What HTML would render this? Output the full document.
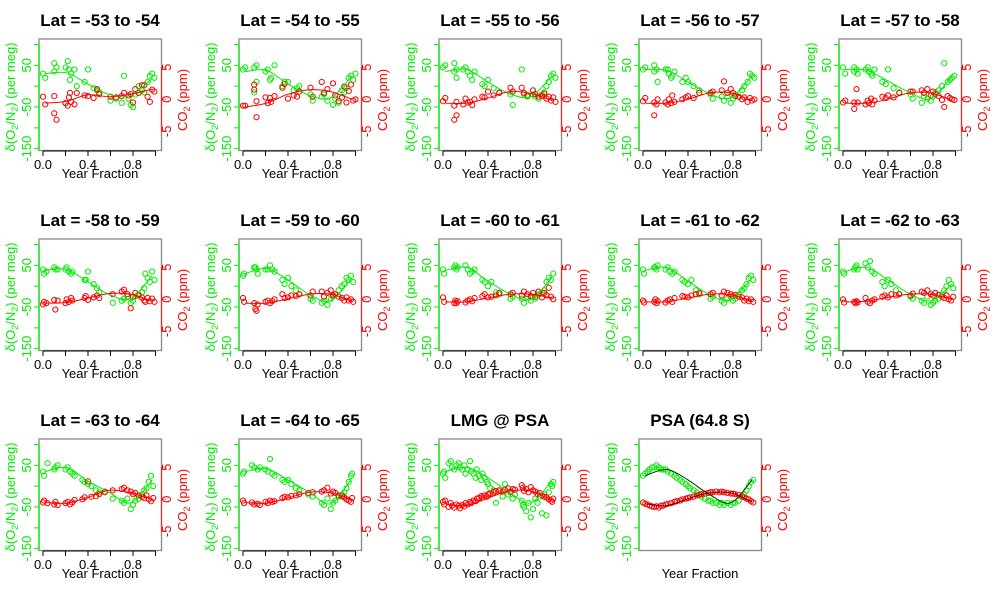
<!DOCTYPE html>
<html><head><meta charset="utf-8">
<style>
html,body{margin:0;padding:0;background:#fff;}
svg{display:block;font-family:"Liberation Sans",Arial,sans-serif;}
</style></head>
<body>
<svg id="chart" width="1000" height="600" viewBox="0 0 1000 600" xmlns="http://www.w3.org/2000/svg"></svg>
<script>
// ---- data ----
const panelTitles = ["Lat = -53 to -54","Lat = -54 to -55","Lat = -55 to -56","Lat = -56 to -57","Lat = -57 to -58",
"Lat = -58 to -59","Lat = -59 to -60","Lat = -60 to -61","Lat = -61 to -62","Lat = -62 to -63",
"Lat = -63 to -64","Lat = -64 to -65","LMG @ PSA","PSA (64.8 S)"];
const xTicks = [0,0.2,0.4,0.6,0.8,1.0];
const xTickLabels = ["0.0","","0.4","","0.8",""];
const o2Ticks = [100,50,0,-50,-100,-150];
const o2TickLabels = ["","50","","-50","","-150"];
const co2Ticks = [5,0,-5];
const co2TickLabels = ["5","0","-5"];
const fitKnots = [0,0.2,0.4,0.6,0.8,1.0];

const xs = [
[0.0,0.02,0.1,0.1,0.12,0.2,0.22,0.23,0.24,0.25,0.28,0.3,0.37,0.4,0.45,0.48,0.5,0.6,0.65,0.7,0.72,0.76,0.78,0.8,0.82,0.85,0.88,0.9,0.93,0.95,0.97,0.99],
[0.0,0.02,0.1,0.1,0.12,0.12,0.2,0.22,0.24,0.25,0.28,0.35,0.37,0.4,0.45,0.48,0.5,0.6,0.62,0.7,0.72,0.75,0.8,0.82,0.85,0.88,0.9,0.92,0.94,0.96,0.98,1.0],
[0.0,0.02,0.1,0.1,0.12,0.12,0.18,0.2,0.22,0.24,0.26,0.28,0.35,0.37,0.4,0.45,0.5,0.6,0.62,0.7,0.72,0.75,0.8,0.82,0.85,0.88,0.9,0.92,0.94,0.96,0.98,1.0],
[0.0,0.02,0.1,0.1,0.12,0.13,0.2,0.22,0.23,0.25,0.26,0.28,0.35,0.38,0.4,0.45,0.5,0.6,0.62,0.7,0.72,0.75,0.78,0.8,0.82,0.85,0.88,0.9,0.93,0.95,0.97,0.99],
[0.0,0.02,0.1,0.1,0.12,0.13,0.2,0.22,0.23,0.25,0.26,0.28,0.35,0.38,0.4,0.45,0.5,0.6,0.62,0.7,0.72,0.75,0.78,0.8,0.82,0.85,0.88,0.9,0.93,0.95,0.97,0.99],
[0.0,0.01,0.03,0.1,0.11,0.13,0.2,0.21,0.23,0.25,0.26,0.37,0.38,0.4,0.45,0.48,0.5,0.62,0.7,0.72,0.75,0.78,0.8,0.82,0.85,0.88,0.9,0.91,0.93,0.95,0.97,0.99],
[0.0,0.01,0.1,0.11,0.12,0.13,0.2,0.22,0.24,0.26,0.28,0.35,0.37,0.4,0.43,0.47,0.5,0.6,0.62,0.7,0.72,0.75,0.78,0.8,0.82,0.85,0.88,0.9,0.92,0.94,0.96,0.98],
[0.0,0.01,0.1,0.11,0.12,0.13,0.2,0.22,0.24,0.26,0.28,0.35,0.37,0.4,0.43,0.47,0.5,0.6,0.62,0.7,0.72,0.75,0.78,0.8,0.82,0.85,0.88,0.9,0.92,0.94,0.96,0.98],
[0.0,0.01,0.1,0.11,0.12,0.13,0.2,0.22,0.24,0.26,0.28,0.35,0.37,0.4,0.43,0.47,0.5,0.6,0.62,0.7,0.72,0.75,0.78,0.8,0.82,0.85,0.88,0.9,0.92,0.94,0.96,0.98],
[0.0,0.01,0.1,0.11,0.12,0.13,0.2,0.22,0.24,0.26,0.28,0.35,0.37,0.4,0.43,0.47,0.5,0.6,0.62,0.7,0.72,0.75,0.78,0.8,0.82,0.85,0.88,0.9,0.92,0.94,0.96,0.98],
[0.0,0.01,0.04,0.1,0.11,0.13,0.2,0.22,0.24,0.26,0.28,0.35,0.37,0.4,0.43,0.47,0.5,0.55,0.62,0.7,0.72,0.75,0.78,0.8,0.82,0.85,0.88,0.9,0.92,0.94,0.96,0.98],
[0.0,0.01,0.08,0.1,0.13,0.15,0.2,0.22,0.24,0.26,0.28,0.35,0.37,0.4,0.43,0.47,0.5,0.58,0.62,0.7,0.72,0.75,0.78,0.8,0.82,0.85,0.88,0.9,0.92,0.94,0.96,0.97],
[0.0,0.01,0.02,0.05,0.07,0.08,0.1,0.12,0.14,0.15,0.17,0.19,0.2,0.22,0.24,0.25,0.27,0.29,0.3,0.32,0.34,0.35,0.37,0.39,0.4,0.42,0.45,0.47,0.5,0.53,0.55,0.58,0.6,0.62,0.64,0.7,0.71,0.72,0.74,0.76,0.78,0.8,0.82,0.84,0.86,0.88,0.9,0.92,0.94,0.96,0.97,0.98],
[0.0,0.02,0.04,0.06,0.08,0.1,0.12,0.14,0.16,0.18,0.2,0.22,0.25,0.28,0.3,0.33,0.35,0.38,0.4,0.42,0.45,0.48,0.5,0.52,0.55,0.58,0.6,0.62,0.65,0.68,0.7,0.72,0.75,0.78,0.8,0.82,0.85,0.88,0.9,0.92,0.94,0.96,0.98]
];
const o2Values = [
[30,20,55,35,45,45,60,40,15,30,40,0,10,40,-5,-10,-15,-35,-30,-40,25,-30,-45,-50,-20,0,-10,-15,10,25,30,20],
[40,45,45,-15,10,50,35,40,15,20,50,0,10,10,-10,-5,0,-20,-35,-25,-20,-35,-45,-30,-40,-10,-15,-5,20,25,15,30],
[45,50,55,35,20,40,40,45,35,25,15,35,5,0,15,-5,-15,-20,-45,40,-20,-25,-20,-25,-30,-20,-15,0,10,25,30,20],
[40,45,50,35,40,10,40,40,30,20,25,35,10,20,10,0,-10,-20,-30,-25,-35,-25,-40,-30,-20,-25,-10,0,10,30,25,20],
[45,30,45,35,40,30,40,45,35,30,25,40,10,5,40,-5,-15,-20,-30,-40,-25,-30,-35,-25,-15,-10,0,55,10,15,20,25],
[40,30,35,45,40,40,40,45,35,30,35,15,15,35,5,-5,-15,-40,-35,-30,-25,-40,-35,-25,-20,-15,-5,30,20,10,35,15],
[25,30,45,45,40,30,40,40,50,40,35,15,5,20,0,-10,-20,-30,-35,-40,-35,-45,-30,-25,-20,-10,0,5,20,15,25,10],
[40,30,45,50,40,45,50,40,30,35,40,15,10,0,10,-15,-20,-30,-25,-30,-40,-25,-35,-25,-30,-20,-15,-10,10,20,15,30],
[40,30,45,45,40,50,40,45,35,30,35,15,10,5,15,-10,-20,-30,-25,-35,-40,-30,-25,-35,-30,-20,-10,-5,5,20,25,15],
[35,30,40,45,50,40,55,45,60,35,30,10,0,15,5,-10,-20,-25,-30,-35,-40,-25,-45,-40,-35,-30,-20,-10,0,15,5,-5],
[35,25,55,40,45,50,40,45,35,30,25,15,10,5,0,-10,-15,-15,-30,-35,-40,-30,-55,-45,-35,-30,-20,-10,-5,10,25,0],
[30,35,50,45,40,45,40,35,65,30,25,15,10,15,5,-5,-10,-20,-25,-40,-45,-30,-55,-40,-35,-25,-20,-15,-5,10,25,30],
[30,35,20,55,60,45,40,50,55,45,40,50,30,40,60,35,30,20,40,25,15,30,20,10,5,-5,-10,-40,-10,-25,5,-20,-15,-30,-20,-35,-45,-50,-60,-40,-75,-55,-30,-40,-25,-65,-20,-70,-15,5,0,10],
[25,30,35,40,45,45,50,45,40,40,40,35,30,25,20,15,10,5,0,-5,-10,-15,-20,-25,-30,-35,-35,-40,-40,-45,-40,-45,-40,-45,-40,-40,-35,-25,-20,-10,0,10,15]
];
const co2Values = [
[0.4,-0.8,0.5,-2.2,-3.2,-0.6,-1.0,0.3,1.0,-0.4,-0.8,1.0,0.6,0.5,0.2,1.6,0.8,0.4,0.3,0.5,1.0,0.6,0.8,-0.5,1.6,1.0,2.2,2.2,0.4,-0.4,1.5,1.2],
[-1.0,-1.0,1.5,2.3,-0.3,-2.8,0.3,-0.6,0.2,-0.4,0.5,1.8,2.4,0.1,0.6,0.4,1.2,1.8,0.4,2.7,1.0,1.6,2.5,0.6,-0.3,0.3,2.0,-0.5,1.3,2.3,-0.2,0.0],
[-0.3,0.2,-1.0,-3.2,-2.5,-0.4,-0.8,0.1,-0.5,-0.4,-0.9,0.0,0.4,0.3,1.2,0.6,1.0,1.8,1.2,1.8,1.0,0.6,1.4,0.8,0.4,0.5,0.9,0.1,0.4,-0.2,0.3,-0.4],
[-0.3,0.2,-0.5,-2.5,-0.8,0.0,-0.5,-0.8,0.0,-0.6,0.6,-0.4,0.0,0.3,0.5,0.2,1.0,1.0,1.2,1.4,2.8,1.0,1.6,1.0,0.5,0.4,0.0,0.3,-0.4,0.2,-0.2,0.0],
[-0.5,-0.2,-0.5,-1.5,1.6,-0.5,-0.8,-0.2,-0.6,0.1,-0.8,-0.2,0.4,0.2,0.6,0.3,1.0,1.2,1.2,1.4,1.0,1.6,0.6,1.2,0.8,0.5,-0.1,-1.2,0.5,0.2,0.0,-0.1],
[-0.8,-0.4,-0.6,-0.1,-1.6,-0.2,-0.6,0.0,-0.4,0.2,-0.2,0.2,0.5,-0.1,0.3,0.6,0.2,0.8,1.2,1.5,0.8,-1.4,0.4,1.0,0.6,0.3,-0.2,-0.4,0.2,-0.3,0.1,-0.4],
[0.2,-0.4,-0.6,-1.5,-1.8,-0.8,-0.4,-0.2,-0.6,-0.3,0.0,0.8,0.2,0.3,0.6,0.5,0.8,0.6,1.2,1.2,0.4,1.0,1.4,0.6,0.8,0.4,0.2,-0.2,0.3,-0.2,0.0,-0.4],
[0.3,-0.4,-0.6,-0.2,-0.6,-0.3,-0.5,-0.2,0.0,-0.3,0.2,0.5,0.8,0.3,0.4,0.6,1.0,0.8,1.0,0.6,1.2,0.8,0.5,1.0,0.4,1.2,0.3,1.0,0.6,1.8,0.4,0.0],
[-0.2,-0.5,-0.4,0.0,-0.6,-0.3,-0.5,-0.2,0.0,-0.4,0.2,0.5,0.4,0.3,0.6,0.8,1.0,0.8,1.0,0.6,1.2,1.0,0.8,0.5,0.7,0.4,0.3,-0.2,0.1,-0.3,0.0,-0.4],
[0.0,-0.5,-0.4,-0.6,-0.3,-0.5,0.2,-0.4,-0.6,-0.2,0.0,0.4,0.6,0.3,0.8,0.6,0.8,0.6,0.9,1.2,1.0,1.4,0.8,0.6,1.0,0.7,0.4,0.2,0.6,0.0,-0.2,0.4],
[-0.5,-0.2,-0.6,-0.8,-0.4,-0.9,-0.6,-0.4,-0.8,-0.5,-0.1,0.0,0.3,2.8,0.4,0.5,0.8,1.2,1.4,1.6,1.8,1.4,1.2,0.8,1.0,0.6,0.4,0.2,0.6,0.0,-0.3,0.2],
[-0.2,-0.6,-0.5,-0.8,-0.7,-0.9,-0.4,-0.6,-0.2,-0.4,-0.3,0.2,0.4,0.3,0.5,0.6,0.8,1.0,1.1,1.2,1.4,1.8,0.9,1.2,1.0,0.6,0.5,0.3,0.0,-0.2,-0.4,0.2],
[-0.4,-0.8,-0.2,-1.2,-0.6,-1.0,-1.3,-0.8,-1.0,-1.4,-0.9,-1.1,-0.6,-0.8,-0.4,-0.6,-0.2,-0.3,0.1,0.2,0.5,0.3,0.6,0.4,0.8,0.9,1.1,1.3,1.4,1.2,1.5,1.7,1.2,1.6,1.5,2.2,1.8,1.3,1.6,1.1,1.9,1.4,1.2,0.8,1.0,0.6,0.4,0.3,0.0,-0.2,-0.4,0.1],
[-0.5,-0.7,-0.8,-1.0,-1.1,-1.2,-1.1,-1.3,-1.0,-1.0,-0.8,-0.7,-0.6,-0.4,-0.3,-0.2,0.0,0.1,0.2,0.3,0.4,0.6,0.7,0.8,0.9,1.0,1.1,1.1,1.2,1.1,1.2,1.1,1.0,0.9,0.9,0.8,0.7,0.5,0.3,0.1,0.0,-0.3,-0.5]
];
const o2Fit = [
[30,32,5,-20,-22,18],[35,38,5,-22,-28,25],[35,40,10,-18,-25,25],[40,38,10,-18,-28,25],[40,38,12,-15,-30,25],
[38,40,10,-20,-30,25],[30,42,15,-20,-35,20],[38,45,12,-18,-32,22],[38,45,12,-20,-32,20],[35,45,15,-18,-35,5],
[35,45,12,-15,-40,15],[35,42,15,-15,-42,20],[35,45,20,-15,-40,15],[25,40,15,-20,-40,15]
];
const co2Fit = [
[-0.6,-0.3,0.7,0.4,0.8,1.6],[-1.2,-0.6,0.8,1.5,1.2,0.0],[-0.6,-0.6,0.2,1.2,0.9,-0.2],[-0.6,-0.6,0.0,1.0,1.0,-0.2],[-0.6,-0.6,0.0,1.0,1.0,-0.2],
[-0.6,-0.5,0.2,0.9,0.8,-0.3],[-0.6,-0.6,0.1,0.8,0.8,-0.3],[-0.4,-0.4,0.2,0.8,0.8,0.2],[-0.4,-0.4,0.2,0.8,0.7,-0.3],[-0.4,-0.3,0.3,0.8,0.8,0.0],
[-0.5,-0.6,0.3,1.4,1.0,0.0],[-0.5,-0.6,0.2,1.1,1.0,-0.2],[-0.7,-1.0,0.2,1.3,1.3,-0.2],[-0.7,-1.0,0.1,1.0,1.0,-0.4]
];

// ---- drawing ----
const NS = "http://www.w3.org/2000/svg";
const svg = document.getElementById("chart");
const GREEN = "#00ee00", RED = "#ff0000";
function mk(tag, attrs, parent){ const e=document.createElementNS(NS,tag); for(const k in attrs) e.setAttribute(k,attrs[k]); parent.appendChild(e); return e; }
function xScale(f){ return 43 + f*112.5; }
function o2Scale(v){ return 107 - (v+50)*0.417; }
function co2Scale(c){ return 99.3 - c*6.4; }
function smoothPath(pts){
  let d = "M"+pts[0][0].toFixed(1)+","+pts[0][1].toFixed(1);
  for(let i=0;i<pts.length-1;i++){
    const p0=pts[Math.max(0,i-1)],p1=pts[i],p2=pts[i+1],p3=pts[Math.min(pts.length-1,i+2)];
    const c1=[p1[0]+(p2[0]-p0[0])/6,p1[1]+(p2[1]-p0[1])/6], c2=[p2[0]-(p3[0]-p1[0])/6,p2[1]-(p3[1]-p1[1])/6];
    d += " C"+c1.join(",")+" "+c2.join(",")+" "+p2[0].toFixed(1)+","+p2[1].toFixed(1);
  }
  return d;
}

panelTitles.forEach((title, p) => {
  const col = p%5, row = Math.floor(p/5);
  const g = mk("g", {transform:`translate(${col*200},${row*200})`}, svg);
  
  
  const t = mk("text", {x:100, y:26, "text-anchor":"middle", "font-size":"17", "font-weight":"bold", fill:"#000"}, g);
  t.textContent = title;
  
  
  const box = mk("rect", {x:39, y:39, width:122.5, height:111.5, fill:"none", stroke:"#888", "stroke-width":"1.3"}, g);
  
  

  // left axis
  const la = mk("g", {}, g);
  
  
  mk("line", {x1:39, x2:39, y1:o2Scale(100), y2:o2Scale(-150), stroke:GREEN, "stroke-width":"1.3"}, la);
  o2Ticks.forEach((v,i)=>{
    const y=o2Scale(v);
    mk("line",{x1:34,x2:39,y1:y,y2:y,stroke:GREEN,"stroke-width":"1"},la);
    if(o2TickLabels[i]){
      const tl=mk("text",{x:0,y:0,transform:`translate(31,${y}) rotate(-90)`,"text-anchor":"middle","font-size":"13",fill:GREEN},la);
      tl.textContent=o2TickLabels[i];
      
      
    }
  });
  const lt = mk("text",{x:0,y:0,transform:"translate(15,97) rotate(-90)","text-anchor":"middle","font-size":"13",fill:GREEN},la);
  lt.innerHTML = 'δ(O<tspan font-size="9" dy="3">2</tspan><tspan dy="-3">/N</tspan><tspan font-size="9" dy="3">2</tspan><tspan dy="-3">) (per meg)</tspan>';
  
  

  // right axis
  const ra = mk("g", {}, g);
  
  
  mk("line",{x1:161.5,x2:161.5,y1:co2Scale(5),y2:co2Scale(-5),stroke:RED,"stroke-width":"1.3","stroke-opacity":"0.6"},ra);
  co2Ticks.forEach((c,i)=>{
    const y=co2Scale(c);
    mk("line",{x1:161.5,x2:166.5,y1:y,y2:y,stroke:RED,"stroke-width":"1","stroke-opacity":"0.6"},ra);
    const tl=mk("text",{x:0,y:0,transform:`translate(171,${y}) rotate(-90)`,"text-anchor":"middle","font-size":"13",fill:RED},ra);
    tl.textContent=co2TickLabels[i];
    
    
  });
  const rt = mk("text",{x:0,y:0,transform:"translate(187,100) rotate(-90)","text-anchor":"middle","font-size":"13",fill:RED},ra);
  rt.innerHTML = 'CO<tspan font-size="9" dy="3">2</tspan><tspan dy="-3"> (ppm)</tspan>';
  
  

  // x axis
  const xa = mk("g", {}, g);
  
  
  if (p !== 13) {
    mk("line",{x1:xScale(0),x2:xScale(1),y1:151,y2:151,stroke:"#000","stroke-width":"1"},xa);
    xTicks.forEach((f,i)=>{
      const x=xScale(f);
      mk("line",{x1:x,x2:x,y1:151,y2:156,stroke:"#000","stroke-width":"1"},xa);
      if(xTickLabels[i]){
        const tl=mk("text",{x:x,y:169,"text-anchor":"middle","font-size":"13",fill:"#000"},xa);
        tl.textContent=xTickLabels[i];
        
        
      }
    });
  }
  const xt = mk("text",{x:100,y:178,"text-anchor":"middle","font-size":"13",fill:"#000"},xa);
  xt.textContent = "Year Fraction";
  
  

  // points
  const gp = mk("g", {fill:"none","stroke-width":"1"}, g);
  
  
  const rp = mk("g", {fill:"none","stroke-width":"1"}, g);
  
  
  xs[p].forEach((f,i)=>{
    const c1 = mk("circle",{cx:xScale(f),cy:o2Scale(o2Values[p][i]),r:2.6,stroke:GREEN},gp);
    
    
  });
  xs[p].forEach((f,i)=>{
    const c2 = mk("circle",{cx:xScale(f),cy:co2Scale(co2Values[p][i]),r:2.6,stroke:RED},rp);
    
    
  });

  // fits
  const gline = smoothPath(fitKnots.map((f,i)=>[xScale(f*0.95+0.02), o2Scale(o2Fit[p][i])]));
  const rline = smoothPath(fitKnots.map((f,i)=>[xScale(f*0.95+0.02), co2Scale(co2Fit[p][i])]));
  const fg = mk("path",{d:gline,fill:"none",stroke:p===13?"#003300":GREEN,"stroke-width":"1"},g);
  
  
  const fr = mk("path",{d:rline,fill:"none",stroke:p===13?"#660000":RED,"stroke-width":"1"},g);
  
  
});
</script>
</body></html>
